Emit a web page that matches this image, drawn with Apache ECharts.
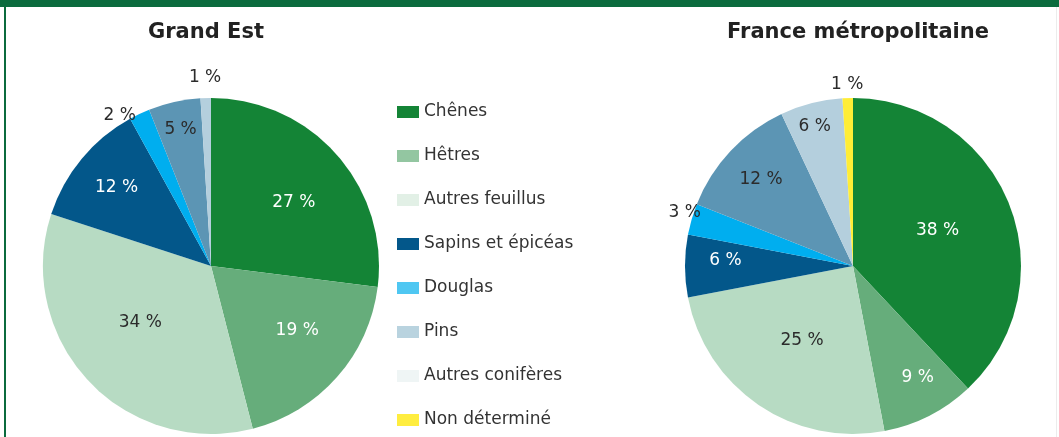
<!DOCTYPE html>
<html>
<head>
<meta charset="utf-8">
<script src="https://cdn.jsdelivr.net/npm/echarts@6/dist/echarts.min.js"></script>
<style>
html,body{margin:0;padding:0;background:#fff;}
#chart{width:1059px;height:437px;}
</style>
</head>
<body>
<div id="chart"></div>
<script>
// ---- data ----
const categories = ['Chênes', 'Hêtres', 'Autres feuillus', 'Sapins et épicéas', 'Douglas', 'Pins', 'Autres conifères', 'Non déterminé'];
const grandEstValues = [27, 19, 34, 12, 2, 5, 1, 0];
const franceValues = [38, 9, 25, 6, 3, 12, 6, 1];
const titles = ['Grand Est', 'France métropolitaine'];

// ---- styles ----
const sliceColors = ['#148436', '#66ad7b', '#b7dbc3', '#03578a', '#00aeef', '#5c95b4', '#b4cfdd', '#ffed36'];
const legendColors = ['#148436', '#93c6a1', '#e2f0e6', '#03578a', '#4fc7f2', '#b9d3df', '#eff5f5', '#ffed3f'];
const labelWhite = [true, true, false, true, false, false, false, false];
// radial position of each label, as a fraction of the pie radius
const labelFrac = [
  [0.62, 0.64, 0.54, 0.73, 1.05, 0.83, 1.12, 1.0],
  [0.545, 0.77, 0.54, 0.76, 1.05, 0.75, 0.86, 1.08]
];
// small angular nudge (degrees) of each label from the slice's mid angle
const labelTurn = [
  [4, -4.7, 4.4, 0, -6, 0, 0, 0],
  [-1, -3, 0, 2.3, 1.3, 0, -1, 0]
];
const centers = [[211, 266], [853, 266]];
const R = 168;
const FONT = 'DejaVu Sans';

function dataFor(values, s) {
  return categories.map((name, i) => ({
    name: name,
    value: values[i],
    itemStyle: { color: sliceColors[i] },
    label: { color: (labelWhite[i] && labelFrac[s][i] < 1) ? '#ffffff' : '#2b2b2b' }
  }));
}

function makeLayout(values, s) {
  const total = values.reduce((a, b) => a + b, 0);
  return function (params) {
    const i = params.dataIndex;
    let cum = 0;
    for (let j = 0; j < i; j++) cum += values[j];
    const theta = 2 * Math.PI * (cum + values[i] / 2) / total + labelTurn[s][i] * Math.PI / 180; // clockwise from top
    const d = labelFrac[s][i] * R;
    const c = centers[s];
    return {
      x: c[0] + d * Math.sin(theta),
      y: c[1] - d * Math.cos(theta),
      align: 'center',
      verticalAlign: 'middle'
    };
  };
}

function pieSeries(values, s) {
  return {
    type: 'pie',
    name: titles[s],
    center: centers[s],
    radius: [0, R],
    startAngle: 90,
    clockwise: true,
    avoidLabelOverlap: false,
    minAngle: 0,
    label: {
      show: true,
      position: 'inside',
      fontFamily: FONT,
      fontSize: 17,
      formatter: p => (p.value > 0 ? p.value + ' %' : '')
    },
    labelLine: { show: false },
    labelLayout: makeLayout(values, s),
    emphasis: { disabled: true },
    itemStyle: { borderWidth: 0 },
    data: dataFor(values, s)
  };
}

const chart = echarts.init(document.getElementById('chart'), null, { renderer: 'canvas' });
chart.setOption({
  animation: false,
  backgroundColor: '#ffffff',
  title: [
    { text: titles[0], left: 201, top: 17, textAlign: 'center',
      textStyle: { fontFamily: FONT, fontWeight: 'bold', fontSize: 21, color: '#222222' } },
    { text: titles[1], left: 853, top: 17, textAlign: 'center',
      textStyle: { fontFamily: FONT, fontWeight: 'bold', fontSize: 21, color: '#222222' } }
  ],
  legend: {
    orient: 'vertical',
    left: 397,
    top: 102,
    padding: 0,
    itemWidth: 22,
    itemHeight: 12,
    itemGap: 24,
    icon: 'rect',
    selectedMode: false,
    textStyle: { fontFamily: FONT, fontSize: 17, color: '#333333', lineHeight: 20 },
    data: categories.map((name, i) => ({ name: name, itemStyle: { color: legendColors[i] } }))
  },
  graphic: [
    { type: 'rect', shape: { x: 0, y: 0, width: 1059, height: 7 }, style: { fill: '#0b6b3e' }, silent: true },
    { type: 'rect', shape: { x: 4, y: 0, width: 2, height: 437 }, style: { fill: '#0b6b3e' }, silent: true },
    { type: 'rect', shape: { x: 1056, y: 7, width: 1, height: 430 }, style: { fill: '#ececec' }, silent: true }
  ],
  series: [pieSeries(grandEstValues, 0), pieSeries(franceValues, 1)]
});
</script>
</body>
</html>
